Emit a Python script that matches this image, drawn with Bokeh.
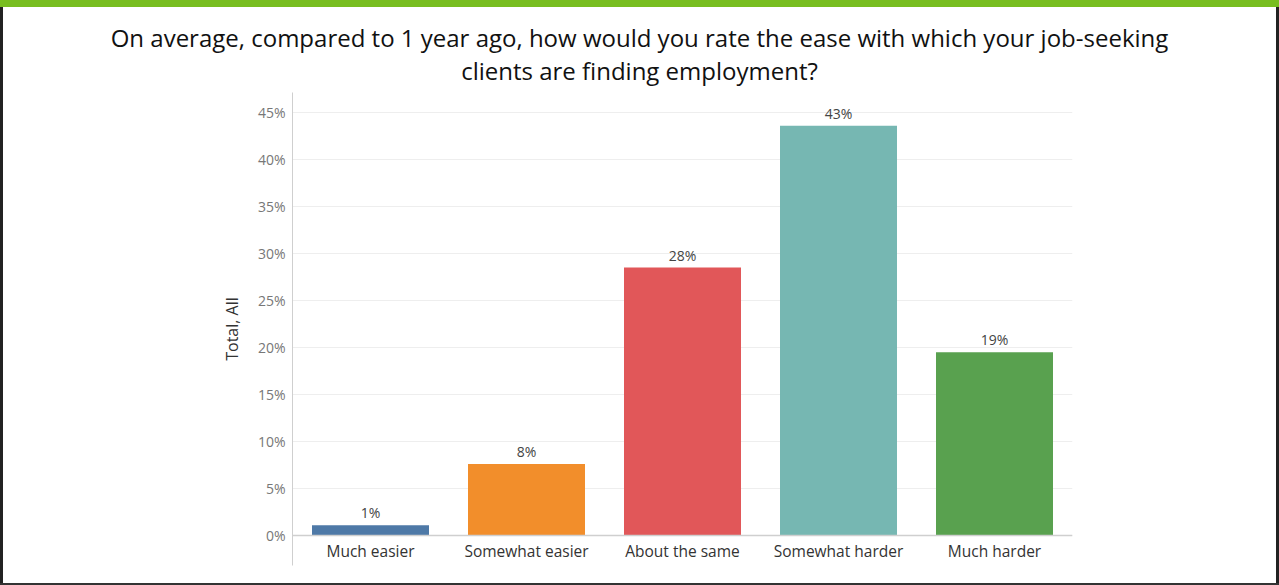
from bokeh.plotting import figure
from bokeh.models import (ColumnDataSource, Range1d, FixedTicker, PrintfTickFormatter,
                          Span, Div)
from bokeh.layouts import column, row
from bokeh.embed import file_html
from bokeh.resources import INLINE
from bokeh.core.properties import value

# ---- data ----
categories = ["Much easier", "Somewhat easier", "About the same", "Somewhat harder", "Much harder"]
values = [1.1, 7.6, 28.5, 43.6, 19.5]
labels = ["1%", "8%", "28%", "43%", "19%"]
colors = ["#4e79a7", "#f28e2b", "#e15759", "#76b7b2", "#59a14f"]
y_ticks = [0, 5, 10, 15, 20, 25, 30, 35, 40, 45]
title_lines = ["On average, compared to 1 year ago, how would you rate the ease with which your job-seeking",
               "clients are finding employment?"]

source = ColumnDataSource(dict(cat=categories, val=values, lab=labels, col=colors))

FONT = "Open Sans"

p = figure(x_range=categories, y_range=Range1d(-3.19, 47.13),
           width=1273, height=494, output_backend="svg", toolbar_location=None,
           min_border_left=289, min_border_right=204, min_border_top=3, min_border_bottom=18)
p.outline_line_color = None
p.background_fill_color = "white"
p.border_fill_color = "white"

p.vbar(x="cat", top="val", width=0.75, fill_color="col", line_color=None, source=source)
p.text(x="cat", y="val", text="lab", source=source, text_align="center", text_baseline="bottom",
       y_offset=-3, text_font=value(FONT), text_font_size="14px", text_color="#444")

p.x_range.range_padding = 0

# grid
p.xgrid.visible = False
p.ygrid.ticker = FixedTicker(ticks=y_ticks)
p.ygrid.grid_line_color = "#eeeeee"
p.add_layout(Span(location=0, dimension="width", line_color="#cfcfcf", line_width=1.5))

# y axis
p.yaxis.ticker = FixedTicker(ticks=y_ticks)
p.yaxis.formatter = PrintfTickFormatter(format="%d%%")
p.yaxis.axis_line_color = "#cfcfcf"
p.yaxis.major_tick_line_color = None
p.yaxis.major_tick_out = 0
p.yaxis.minor_tick_line_color = None
p.yaxis.major_label_standoff = 7
p.yaxis.major_label_text_font = FONT
p.yaxis.major_label_text_font_size = "14px"
p.yaxis.major_label_text_color = "#777777"
p.yaxis.axis_label = "Total, All"
p.yaxis.axis_label_text_font = FONT
p.yaxis.axis_label_text_font_style = "normal"
p.yaxis.axis_label_text_font_size = "16px"
p.yaxis.axis_label_text_color = "#333333"
p.yaxis.axis_label_standoff = 12

# x axis (labels pulled up above the end of the y axis line)
p.xaxis.axis_line_color = None
p.xaxis.major_tick_line_color = None
p.xaxis.major_tick_out = 0
p.xaxis.major_tick_in = 0
p.xaxis.major_label_standoff = -26
p.xaxis.major_label_text_font = FONT
p.xaxis.major_label_text_font_size = "15.5px"
p.xaxis.major_label_text_color = "#333333"

title = Div(text=('<div style="padding-top:14px;text-align:center;font-family:\'Open Sans\';'
                  'font-size:24px;line-height:33px;color:#111;width:1273px;">'
                  + title_lines[0] + '<br>' + title_lines[1] + '</div>'),
            width=1273, height=82, margin=0)

green = Div(width=1279, height=7, margin=0, styles={"background-color": "#78be20"})
lborder = Div(width=3, height=576, margin=0, styles={"background-color": "#222222"})
rborder = Div(width=3, height=576, margin=0, styles={"background-color": "#222222"})
bborder = Div(width=1279, height=2, margin=0, styles={"background-color": "#333333"})

page = column(green, row(lborder, column(title, p, spacing=0), rborder, spacing=0), bborder, spacing=0)

open("out.html", "w").write(file_html(page, INLINE))
